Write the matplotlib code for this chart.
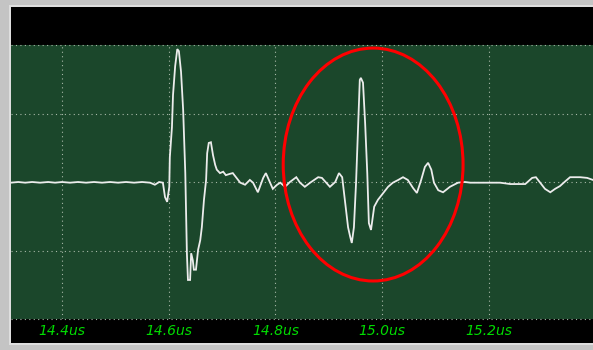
import matplotlib
matplotlib.use("Agg")
import matplotlib.pyplot as plt
from matplotlib.patches import Rectangle, Ellipse
from matplotlib.transforms import blended_transform_factory

# --- data (time in us, amplitude in divisions) ---
time_us = [14.304, 14.318, 14.331, 14.344, 14.359, 14.374, 14.387, 14.400, 14.415, 14.430,
           14.445, 14.460, 14.475, 14.490, 14.505, 14.520, 14.535, 14.550, 14.565, 14.574,
           14.582, 14.589, 14.593, 14.597, 14.601, 14.602, 14.606, 14.608, 14.612, 14.616,
           14.619, 14.623, 14.627, 14.629, 14.631, 14.632, 14.634, 14.636, 14.640, 14.642,
           14.645, 14.647, 14.651, 14.655, 14.659, 14.662, 14.666, 14.670, 14.672, 14.675,
           14.679, 14.683, 14.687, 14.690, 14.696, 14.702, 14.707, 14.715, 14.720, 14.726,
           14.734, 14.743, 14.752, 14.758, 14.767, 14.777, 14.782, 14.790, 14.795, 14.803,
           14.809, 14.818, 14.827, 14.839, 14.846, 14.855, 14.865, 14.880, 14.887, 14.895,
           14.902, 14.912, 14.919, 14.925, 14.930, 14.936, 14.940, 14.943, 14.947, 14.951,
           14.955, 14.958, 14.960, 14.964, 14.968, 14.972, 14.975, 14.979, 14.985, 14.992,
           15.002, 15.011, 15.020, 15.030, 15.039, 15.048, 15.058, 15.065, 15.073, 15.080,
           15.086, 15.092, 15.097, 15.105, 15.114, 15.127, 15.142, 15.155, 15.165, 15.183,
           15.202, 15.221, 15.240, 15.255, 15.268, 15.281, 15.288, 15.296, 15.305, 15.315,
           15.324, 15.333, 15.343, 15.352, 15.371, 15.384, 15.395]
amplitude = [-0.01, 0.00, -0.01, 0.00, -0.01, 0.00, -0.01, 0.00, -0.01, 0.00,
             -0.01, 0.00, -0.01, 0.00, -0.01, 0.00, -0.01, 0.00, -0.01, -0.04,
             0.00, -0.01, -0.22, -0.29, -0.07, 0.36, 0.80, 1.27, 1.69, 1.94,
             1.91, 1.61, 1.05, 0.61, 0.13, -0.26, -1.04, -1.43, -1.43, -1.04,
             -1.14, -1.28, -1.28, -0.99, -0.85, -0.66, -0.26, 0.03, 0.42, 0.57,
             0.58, 0.39, 0.25, 0.18, 0.13, 0.15, 0.10, 0.12, 0.13, 0.07,
             -0.01, -0.04, 0.03, -0.01, -0.15, 0.06, 0.13, -0.01, -0.10, -0.04,
             -0.01, -0.07, 0.00, 0.07, -0.01, -0.07, -0.01, 0.07, 0.06, -0.01,
             -0.07, 0.00, 0.13, 0.07, -0.26, -0.66, -0.80, -0.89, -0.66, -0.01,
             0.86, 1.49, 1.52, 1.45, 0.86, 0.13, -0.60, -0.70, -0.36, -0.26,
             -0.16, -0.07, -0.01, 0.03, 0.07, 0.03, -0.09, -0.16, 0.03, 0.22,
             0.28, 0.18, -0.01, -0.12, -0.15, -0.07, -0.01, 0.00, -0.01, -0.01,
             -0.01, -0.01, -0.03, -0.03, -0.03, 0.06, 0.07, -0.01, -0.10, -0.15,
             -0.10, -0.06, 0.01, 0.07, 0.07, 0.06, 0.03]
tick_times = [14.4, 14.6, 14.8, 15.0, 15.2]
tick_labels = ["14.4us", "14.6us", "14.8us", "15.0us", "15.2us"]
y_divisions = [-2, -1, 0, 1, 2]

# highlight ellipse (centre time, centre amplitude, width us, height div)
ellipse_center = (14.983, 0.255)
ellipse_size = (0.337, 3.40)

W, H = 593, 350
fig = plt.figure(figsize=(W / 100, H / 100), dpi=100, facecolor="#c4c4c4")

# light inner frame line and black instrument panel
fig.patches.append(Rectangle((9 / W, 5 / H), 1 - 9 / W, 340 / H, transform=fig.transFigure,
                             facecolor="#dedede", edgecolor="none", zorder=-2))
fig.patches.append(Rectangle((11 / W, 7 / H), 1 - 11 / W, 336 / H, transform=fig.transFigure,
                             facecolor="black", edgecolor="none", zorder=-1))

ax = fig.add_axes([11 / W, (H - 319) / H, (W - 11) / W, 274 / H])
ax.set_zorder(2)
ax.set_facecolor("#1b472b")
ax.set_xlim(14.3044, 15.395)
ax.set_ylim(-2, 2)
for s in ax.spines.values():
    s.set_visible(False)
ax.set_xticks([])
ax.set_yticks([])

grid_kw = dict(color="#a8b8a8", linewidth=0.8, linestyle=(0, (1, 3)), zorder=1)
for t in tick_times:
    ax.axvline(t, **grid_kw)
for yv in y_divisions:
    ax.axhline(yv, clip_on=False, **grid_kw)

ax.plot(time_us, amplitude, color="#ececec", linewidth=1.3, zorder=3,
        solid_joinstyle="miter")

ell = Ellipse(ellipse_center, ellipse_size[0], ellipse_size[1], fill=False,
              edgecolor="#ff0000", linewidth=2.2, zorder=4)
ax.add_patch(ell)

trans = blended_transform_factory(ax.transData, ax.transAxes)
for t, lab in zip(tick_times, tick_labels):
    ax.text(t, -0.044, lab, transform=trans, ha="center", va="center",
            color="#00dc00", fontsize=10, style="italic", clip_on=False)

fig.savefig("out.png", dpi=100, facecolor=fig.get_facecolor())
